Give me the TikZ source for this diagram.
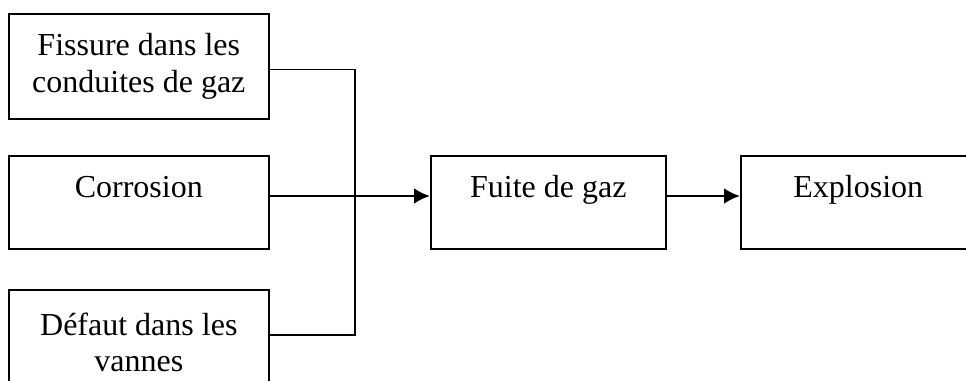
\documentclass[tikz,border=0pt]{standalone}
\usepackage{fontspec}
\setmainfont{Liberation Serif}
\usetikzlibrary{arrows.meta,positioning}

\begin{document}
\begin{tikzpicture}[
        x=0.75pt, y=-0.75pt,
        basic/.style  = {draw, line width=1.2pt, rectangle, inner sep=0pt, align=center,
                         font=\fontsize{24}{27.6}\selectfont, minimum width=195pt},
        cause/.style  = {basic, minimum height=78.75pt},
        effet/.style  = {basic, text height=31.5pt, text depth=38.25pt},
        link/.style   = {draw, line width=1.1pt},
        flow/.style   = {draw, line width=2.2pt, -{Latex[length=12pt,width=12pt]}}]

        \useasboundingbox (0,0) rectangle (966,381);

        % causes, left column
        \node[cause, anchor=north west] (fissure) at (8,13) {Fissure dans les\\conduites de gaz};
        \node[effet, anchor=north west] (corrosion) at (8,155) {Corrosion};
        \node[cause, anchor=north west] (defaut) at (8,289) {D\'efaut dans les\\vannes};

        % consequences, same row as corrosion
        \node[effet, anchor=north west, minimum width=176.25pt] (fuite) at (430,155) {Fuite de gaz};
        \node[effet, anchor=north west, minimum width=176.25pt] (explosion) at (740,155) {Explosion};

        % the three causes meet on one vertical line
        \coordinate (join) at (355,196);

        \draw[link] ([yshift=-2.6pt]fissure.east) -| (join) |- ([yshift=5.6pt]defaut.east);
        \draw[link] (corrosion.east |- join) -- (join);
        \draw[flow] (join) -- (fuite.west |- join);
        \draw[flow] (fuite.east |- join) -- (explosion.west |- join);

    \end{tikzpicture}
\end{document}
